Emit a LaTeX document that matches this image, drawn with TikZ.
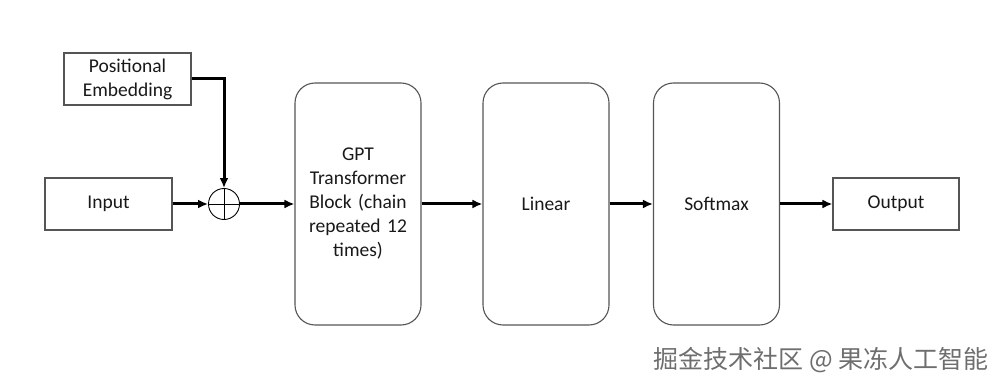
\documentclass[tikz,border=0pt]{standalone}
\usepackage{fontspec}
\setmainfont{Carlito}
\newfontfamily\cjk{Noto Sans CJK SC}
\usetikzlibrary{arrows.meta,calc}
\definecolor{boxline}{HTML}{555555}
\definecolor{wmark}{HTML}{6E6E6E}
\begin{document}
\begin{tikzpicture}[x=1pt,y=-1pt,
  every node/.style={font=\fontsize{19.5}{24}\selectfont, text=black!90},
  sqbox/.style={draw=boxline, line width=1.1pt, minimum width=127pt, minimum height=52pt, inner sep=0pt, align=center},
  rbox/.style={draw=boxline, line width=1.1pt, rounded corners=20pt, minimum width=126pt, minimum height=242pt, inner sep=0pt, align=center, text width=110pt},
  conn/.style={line width=3pt, -{Latex[length=10pt,width=9pt]}},
]
\useasboundingbox (0,0) rectangle (1006,390);
\node[sqbox] (pe) at (127.5,79) {Positional\\Embedding};
\node[sqbox] (in) at (108.5,204) {Input};
\node[draw=black, line width=0.9pt, circle, minimum size=31pt, inner sep=0pt] (add) at (224,204) {};
\draw[line width=0.9pt] (add.north) -- (add.south) (add.west) -- (add.east);
\node[rbox] (gpt) at (358,204) {GPT\\Transformer\\Block (chain\\repeated 12\\times)};
\node[rbox] (lin) at (546,204) {Linear};
\node[rbox] (soft) at (716.5,204) {Softmax};
\node[sqbox, minimum width=126pt] (out) at (896,204) {Output};
\node[font=\cjk\fontsize{25}{25}\selectfont, text=wmark, anchor=east] (wm) at (992,360) {掘金技术社区 @ 果冻人工智能};
\draw[conn] (pe.east) -| (add.north);
\draw[conn] (in.east) -- (add.west);
\draw[conn] (add.east) -- (gpt.west);
\draw[conn] (gpt.east) -- (lin.west);
\draw[conn] (lin.east) -- (soft.west);
\draw[conn] (soft.east) -- (out.west);
\end{tikzpicture}
\end{document}
